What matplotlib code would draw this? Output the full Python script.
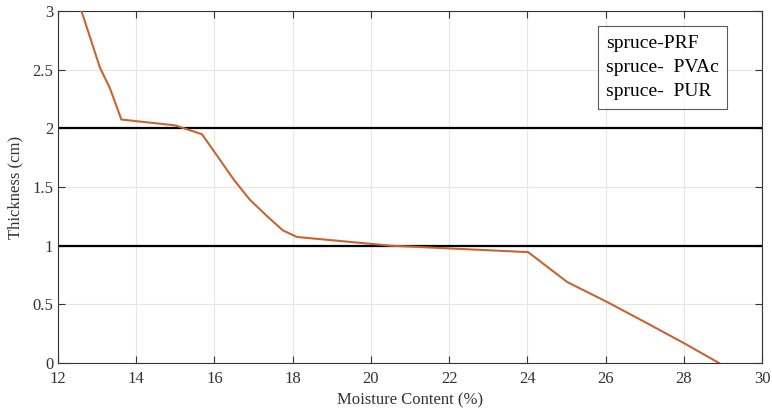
import matplotlib
matplotlib.use("Agg")
import matplotlib.pyplot as plt
from matplotlib.lines import Line2D

plt.rcParams['font.family'] = ['Liberation Serif', 'DejaVu Serif']

# Thickness vs. moisture content curve
moisture = [12.6, 13.07, 13.33, 13.62, 15.0, 15.68, 16.09, 16.5, 16.91, 17.35, 17.75, 18.11,
            20.5, 24.02, 25.02, 26.04, 27.0, 28.0, 28.9]
thickness = [3.0, 2.52, 2.34, 2.075, 2.025, 1.95, 1.756, 1.56, 1.39, 1.25, 1.13, 1.074,
             1.0, 0.945, 0.69, 0.52, 0.35, 0.17, 0.0]

# Reference thickness levels
levels = [2.0, 1.0]

legend_labels = ["spruce-PRF", "spruce-  PVAc", "spruce-  PUR"]
xticks = [12, 14, 16, 18, 20, 22, 24, 26, 28, 30]
yticks = [0, 0.5, 1, 1.5, 2, 2.5, 3]

fig = plt.figure(figsize=(7.72, 4.12), dpi=100)
ax = fig.add_axes([58 / 772, 1 - 363 / 412, (762 - 58) / 772, (363 - 11) / 412])

ax.plot(moisture, thickness, color='#C9642E', linewidth=1.5, zorder=3)
for lv in levels:
    ax.axhline(lv, color='black', linewidth=1.6, zorder=2)

ax.set_xlim(12, 30)
ax.set_ylim(0, 3)
ax.set_xticks(xticks)
ax.set_yticks(yticks)
ax.set_yticklabels(['0', '0.5', '1', '1.5', '2', '2.5', '3'])
ax.grid(True, color='#e6e6e6', linewidth=0.8)
ax.set_axisbelow(True)
ax.tick_params(direction='in', top=True, right=True, labelsize=12, length=5,
               color='#333333', labelcolor='#333333')
ax.tick_params(axis='x', pad=6)
for sp in ax.spines.values():
    sp.set_color('#333333')
    sp.set_linewidth(0.8)

ax.set_xlabel('Moisture Content (%)', fontsize=12, color='#333333', labelpad=4)
ax.set_ylabel('Thickness (cm)', fontsize=12, color='#333333', labelpad=6)

handles = [Line2D([], [], linestyle='none') for _ in legend_labels]
leg = ax.legend(handles, legend_labels, loc='upper right', bbox_to_anchor=(0.950, 0.957),
                borderaxespad=0, handlelength=0, handletextpad=0, fontsize=14,
                frameon=True, fancybox=False, edgecolor='#333333', borderpad=0.42,
                labelspacing=0.34)
leg.get_frame().set_linewidth(0.8)

fig.savefig('out.png', dpi=100)
